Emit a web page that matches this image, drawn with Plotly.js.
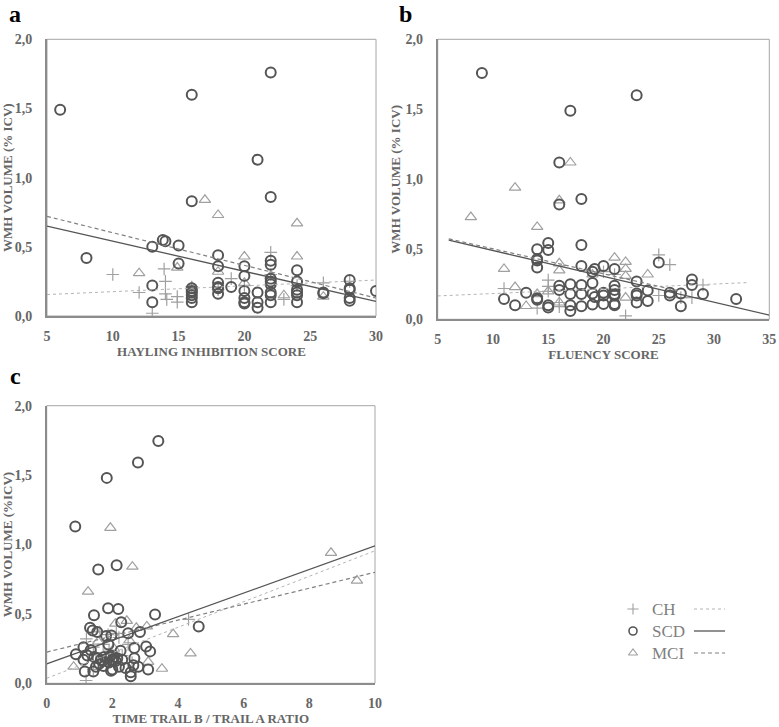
<!DOCTYPE html>
<html><head><meta charset="utf-8">
<script src="https://cdn.plot.ly/plotly-3.0.1.min.js"></script>
<style>html,body{margin:0;padding:0;background:#fff}#chart{width:779px;height:727px}</style>
</head><body><div id="chart"></div>
<script>
// ---------- Panel a: Hayling inhibition score ----------
const aSCD_x = [6,8,13,13,13,13.8,14,15,15,16,16,16,16,16,16,16,16,18,18,18,18,18,18,19,20,20,20,20,20,20,21,21,21,21,22,22,22,22,22,22,22,22,22,22,24,24,24,24,24,24,26,26,28,28,28,28,28,30];
const aSCD_y = [1.49,0.42,0.50,0.22,0.10,0.55,0.54,0.51,0.38,1.60,0.83,0.20,0.18,0.17,0.15,0.13,0.10,0.44,0.36,0.24,0.21,0.20,0.16,0.21,0.36,0.29,0.18,0.13,0.10,0.09,1.13,0.17,0.10,0.06,1.76,0.86,0.40,0.37,0.27,0.25,0.23,0.17,0.15,0.10,0.33,0.25,0.19,0.17,0.15,0.10,0.17,0.165,0.26,0.19,0.20,0.13,0.11,0.18];
const aMCI_x = [12,14.9,16,17,18,18,20,20,22,23,24,24,26];
const aMCI_y = [0.31,0.35,0.21,0.84,0.73,0.32,0.43,0.24,0.29,0.15,0.67,0.43,0.14];
const aCH_x = [10,12,13,13.9,14,14,14.1,14.9,14.9,16,18,19,20,22,22,23,24,26,28];
const aCH_y = [0.30,0.17,0.02,0.34,0.25,0.16,0.12,0.14,0.10,0.21,0.19,0.27,0.22,0.46,0.30,0.12,0.22,0.24,0.25];
const aTrendCH_x = [5,30],  aTrendCH_y = [0.155,0.26];
const aTrendSCD_x = [5,30], aTrendSCD_y = [0.65,0.105];
const aTrendMCI_x = [5,30], aTrendMCI_y = [0.72,0.13];
const aXTicks = [5,10,15,20,25,30];

// ---------- Panel b: Fluency score ----------
const bSCD_x = [9,23,17,16,18,16,18,15,15,14,14,14,14,14,14,11,12,13,15,15,16,16,17,17,17,17,18,18,18,18,19,19.2,19,19,19.2,19,20,20,20,20,21,21,21,21,21,21,21,23,23,23,23,24,24,25,26,26,27,27,28,28,29,32];
const bSCD_y = [1.76,1.60,1.49,1.12,0.86,0.82,0.53,0.545,0.495,0.50,0.43,0.42,0.37,0.15,0.14,0.145,0.10,0.19,0.10,0.085,0.24,0.21,0.25,0.18,0.10,0.06,0.38,0.245,0.18,0.093,0.34,0.36,0.26,0.185,0.16,0.105,0.38,0.19,0.17,0.11,0.36,0.24,0.21,0.18,0.17,0.11,0.10,0.27,0.185,0.17,0.12,0.205,0.13,0.405,0.17,0.19,0.185,0.093,0.285,0.245,0.18,0.145];
const bMCI_x = [8,11,12,12,13,14,14,15,16,16,16,16,17,19,21,22,22,22,22,24];
const bMCI_y = [0.73,0.36,0.94,0.23,0.095,0.66,0.18,0.20,0.85,0.40,0.35,0.12,1.12,0.32,0.44,0.41,0.36,0.31,0.155,0.32];
const bCH_x = [11,14,15,15,15,16,16,20,21,22,25,25,26,27,28,29];
const bCH_y = [0.22,0.08,0.28,0.235,0.20,0.12,0.09,0.34,0.32,0.025,0.46,0.17,0.39,0.155,0.155,0.245];
const bTrendCH_x = [5,33],  bTrendCH_y = [0.167,0.262];
const bTrendSCD_x = [6,35], bTrendSCD_y = [0.565,0.03];
const bTrendMCI_x = [6,27], bTrendMCI_y = [0.575,0.20];
const bXTicks = [5,10,15,20,25,30,35];

// ---------- Panel c: Trail B / Trail A ratio ----------
const cSCD_x = [3.40,2.78,1.83,0.87,2.13,1.57,1.87,2.18,1.44,3.30,2.27,4.63,1.32,1.40,1.54,1.81,1.97,2.48,2.84,1.88,2.67,3.03,3.15,1.12,0.89,1.34,2.25,2.67,1.12,1.24,1.45,1.55,1.65,1.75,1.85,1.90,1.95,2.00,2.05,2.10,2.15,1.70,1.60,2.30,1.16,1.42,1.96,2.00,2.40,2.56,2.56,2.64,2.79,3.09,1.73,1.50,2.20,1.92,2.02];
const cSCD_y = [1.745,1.59,1.48,1.13,0.85,0.82,0.54,0.535,0.49,0.495,0.44,0.41,0.40,0.38,0.37,0.34,0.345,0.36,0.37,0.28,0.255,0.265,0.23,0.26,0.21,0.24,0.235,0.18,0.17,0.20,0.19,0.18,0.17,0.19,0.18,0.15,0.20,0.17,0.19,0.16,0.18,0.16,0.14,0.17,0.085,0.085,0.09,0.10,0.11,0.08,0.05,0.13,0.12,0.10,0.125,0.12,0.12,0.19,0.16];
const cMCI_x = [1.94,2.61,1.26,8.66,9.45,3.85,4.38,3.51,0.82,2.09,2.44,3.05,2.73,2.05,3.09,1.57,2.52];
const cMCI_y = [1.12,0.84,0.66,0.94,0.74,0.355,0.215,0.105,0.12,0.43,0.45,0.41,0.40,0.25,0.155,0.30,0.31];
const cCH_x = [1.20,4.32,1.62,1.87,1.21,2.12,1.42,1.72,1.82,1.42,2.48,2.20,1.50,2.30,1.90,2.60];
const cCH_y = [0.02,0.46,0.37,0.35,0.32,0.36,0.26,0.28,0.13,0.10,0.28,0.33,0.22,0.20,0.24,0.15];
const cTrendCH_x = [0,10],  cTrendCH_y = [0.036,0.955];
const cTrendSCD_x = [0,10], cTrendSCD_y = [0.14,0.99];
const cTrendMCI_x = [0,10], cTrendMCI_y = [0.225,0.80];
const cXTicks = [0,2,4,6,8,10];

// ---------- Labels ----------
const yTickVals = [0,0.5,1,1.5,2];
const yTickText = ['0,0','0,5','1,0','1,5','2,0'];
const groupNames = ['CH','SCD','MCI'];
const panelLetters = ['a','b','c'];
const xTitles = ['HAYLING INHIBITION SCORE','FLUENCY SCORE','TIME TRAIL B / TRAIL A RATIO'];
const yTitles = ['WMH VOLUME (% ICV)','WMH VOLUME (% ICV)','WMH VOLUME (%ICV)'];

// ---------- Styles ----------
const SERIF = '"Liberation Serif", "Times New Roman", serif';
const W = 779, H = 727;
const px = v => v / W, py = v => 1 - v / H;
const bold = a => a.map(t => '<b>' + t + '</b>');
const styles = {
  CH:  {symbol:'cross-thin-open', size:9, color:'#a0a0a0', lw:1.2, line:{color:'#b4b4b4', width:1, dash:'dot'}},
  SCD: {symbol:'circle-open', size:10, color:'#555555', lw:2, line:{color:'#555555', width:1.3, dash:'solid'}},
  MCI: {symbol:'triangle-up-open', size:10, color:'#a0a0a0', lw:1.2, line:{color:'#808080', width:1.2, dash:'4px,3px'}}
};

function pts(x, y, g, xa, ya) {
  const s = styles[g];
  return {type:'scatter', mode:'markers', x, y, xaxis:xa, yaxis:ya, name:g, showlegend:false, hoverinfo:'skip',
    marker:{symbol:s.symbol, size:s.size, color:s.color, line:{width:s.lw, color:s.color}}};
}
function trend(x, y, g, xa, ya) {
  return {type:'scatter', mode:'lines', x, y, xaxis:xa, yaxis:ya, name:g + ' fit', showlegend:false, hoverinfo:'skip',
    line:styles[g].line};
}

const data = [
  pts(aCH_x, aCH_y, 'CH', 'x', 'y'), pts(aMCI_x, aMCI_y, 'MCI', 'x', 'y'), pts(aSCD_x, aSCD_y, 'SCD', 'x', 'y'),
  trend(aTrendCH_x, aTrendCH_y, 'CH', 'x', 'y'), trend(aTrendMCI_x, aTrendMCI_y, 'MCI', 'x', 'y'), trend(aTrendSCD_x, aTrendSCD_y, 'SCD', 'x', 'y'),
  pts(bCH_x, bCH_y, 'CH', 'x2', 'y2'), pts(bMCI_x, bMCI_y, 'MCI', 'x2', 'y2'), pts(bSCD_x, bSCD_y, 'SCD', 'x2', 'y2'),
  trend(bTrendCH_x, bTrendCH_y, 'CH', 'x2', 'y2'), trend(bTrendMCI_x, bTrendMCI_y, 'MCI', 'x2', 'y2'), trend(bTrendSCD_x, bTrendSCD_y, 'SCD', 'x2', 'y2'),
  pts(cCH_x, cCH_y, 'CH', 'x3', 'y3'), pts(cMCI_x, cMCI_y, 'MCI', 'x3', 'y3'), pts(cSCD_x, cSCD_y, 'SCD', 'x3', 'y3'),
  trend(cTrendCH_x, cTrendCH_y, 'CH', 'x3', 'y3'), trend(cTrendMCI_x, cTrendMCI_y, 'MCI', 'x3', 'y3'), trend(cTrendSCD_x, cTrendSCD_y, 'SCD', 'x3', 'y3')
];

// custom legend (marker | label | line sample) on a hidden pixel-unit axis
const legRows = [609, 631, 653];
groupNames.forEach((g, i) => {
  const s = styles[g];
  data.push({type:'scatter', mode:'markers', x:[633], y:[legRows[i]], xaxis:'x4', yaxis:'y4', showlegend:false, hoverinfo:'skip',
    marker:{symbol:s.symbol, size:8, color:s.color, line:{width:g === 'SCD' ? 1.6 : 1.1, color:s.color}}});
  data.push({type:'scatter', mode:'lines', x:[694,725], y:[legRows[i], legRows[i]], xaxis:'x4', yaxis:'y4', showlegend:false, hoverinfo:'skip',
    line:s.line});
});

const tickFont = {family:SERIF, size:14, color:'#666666'};
const titleFont = {family:SERIF, size:13, color:'#666666'};
function xAx(domain, anchor, range, ticks, title) {
  return {domain, anchor, range, tickvals:ticks, ticktext:bold(ticks), showgrid:false, zeroline:false, showline:true,
    linecolor:'#8c8c8c', linewidth:2, ticks:'', ticklabelstandoff:6, tickfont:tickFont, fixedrange:true,
    title:{text:'<b>' + title + '</b>', font:titleFont, standoff:2}};
}
function yAx(domain, anchor, title) {
  return {domain, anchor, range:[0,2], tickvals:yTickVals, ticktext:bold(yTickText), showgrid:false, zeroline:false, showline:true,
    linecolor:'#8c8c8c', linewidth:2, ticks:'', ticklabelstandoff:10, tickfont:tickFont, fixedrange:true,
    title:{text:'<b>' + title + '</b>', font:titleFont, standoff:2}};
}

const dA = {x:[px(47), px(376)], y:[py(316), py(39.3)]};
const dB = {x:[px(437.7), px(769.3)], y:[py(319.3), py(39.3)]};
const dC = {x:[px(46.7), px(375)], y:[py(683.3), py(405.7)]};

const boxes = [['x','y'],['x2','y2'],['x3','y3']].map(([xa, ya]) => ({
  type:'rect', xref:xa + ' domain', yref:ya + ' domain', x0:0, x1:1, y0:0, y1:1, line:{color:'#a6a6a6', width:1}, layer:'below'}));

const letterPos = [[15, 0], [405, 0], [15, 362]];
const annotations = panelLetters.map((t, i) => ({
  text:'<b>' + t + '</b>', xref:'paper', yref:'paper', x:px(letterPos[i][0]), y:py(letterPos[i][1]), xanchor:'center', yanchor:'top',
  showarrow:false, borderpad:0, font:{family:SERIF, size:24, color:'#000000'}}));
groupNames.forEach((g, i) => annotations.push({
  text:g, xref:'x4', yref:'y4', x:650, y:legRows[i], xanchor:'left', yanchor:'middle', showarrow:false,
  font:{family:SERIF, size:17, color:'#7f7f7f'}}));

const layout = {
  width:W, height:H, margin:{l:0, r:0, t:0, b:0}, paper_bgcolor:'#ffffff', plot_bgcolor:'#ffffff', showlegend:false,
  xaxis: xAx(dA.x, 'y', [5,30], aXTicks, xTitles[0]),
  yaxis: yAx(dA.y, 'x', yTitles[0]),
  xaxis2: xAx(dB.x, 'y2', [5,35], bXTicks, xTitles[1]),
  yaxis2: yAx(dB.y, 'x2', yTitles[1]),
  xaxis3: xAx(dC.x, 'y3', [0,10], cXTicks, xTitles[2]),
  yaxis3: yAx(dC.y, 'x3', yTitles[2]),
  xaxis4: {domain:[px(600), px(760)], anchor:'y4', range:[600,760], visible:false, fixedrange:true},
  yaxis4: {domain:[py(680), py(590)], anchor:'x4', range:[680,590], visible:false, fixedrange:true},
  shapes: boxes,
  annotations
};

Plotly.newPlot('chart', data, layout, {displayModeBar:false, staticPlot:true});
</script></body></html>
